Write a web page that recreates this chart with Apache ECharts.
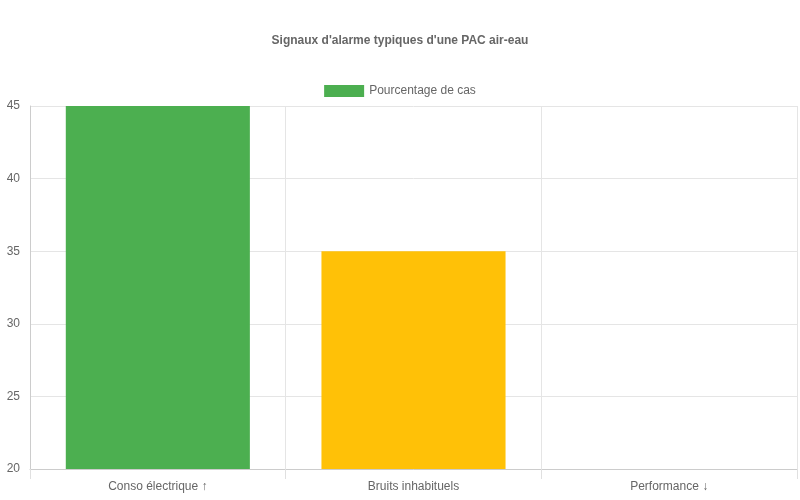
<!DOCTYPE html>
<html><head><meta charset="utf-8">
<script src="https://cdn.jsdelivr.net/npm/echarts@6/dist/echarts.min.js"></script>
<style>html,body{margin:0;padding:0;background:#fff}#c{width:800px;height:500px}</style>
</head><body><div id="c"></div>
<script>
const categories = ["Conso électrique ↑", "Bruits inhabituels", "Performance ↓"];
const values = [45, 35, 20];
const colors = ["#4caf50", "#ffc107", "#f44336"];
const seriesName = "Pourcentage de cas";
const chart = echarts.init(document.getElementById('c'));
chart.setOption({
  animation: false,
  title: {text: "Signaux d'alarme typiques d'une PAC air-eau", left: 'center', top: 30,
    textStyle: {fontFamily: 'Liberation Sans, Arial', fontSize: 12, fontWeight: 'bold', color: '#666'}},
  legend: {top: 80, left: 'center', itemWidth: 40, itemHeight: 12, itemGap: 6, icon: 'rect',
    textStyle: {fontFamily: 'Liberation Sans, Arial', fontSize: 12, color: '#666'},
    data: [{name: seriesName, itemStyle: {color: colors[0]}}]},
  grid: {left: 30, right: 3, top: 106, bottom: 31},
  xAxis: {type: 'category', data: categories, boundaryGap: true,
    axisLine: {lineStyle: {color: '#ccc'}},
    axisTick: {show: true, length: 10, lineStyle: {color: '#e0e0e0'}},
    splitLine: {show: true, lineStyle: {color: '#e5e5e5'}},
    axisLabel: {color: '#666', fontSize: 12, fontFamily: 'Liberation Sans, Arial', margin: 12}},
  yAxis: {type: 'value', min: 20, max: 45, interval: 5,
    axisLine: {show: true, lineStyle: {color: '#ccc'}},
    axisTick: {show: false},
    splitLine: {lineStyle: {color: '#e5e5e5'}},
    axisLabel: {color: '#666', fontSize: 12, fontFamily: 'Liberation Sans, Arial', margin: 10}},
  series: [{name: seriesName, type: 'bar', barWidth: '72%',
    data: values.map((v, i) => ({value: v, itemStyle: {color: colors[i]}}))}]
});
</script></body></html>
